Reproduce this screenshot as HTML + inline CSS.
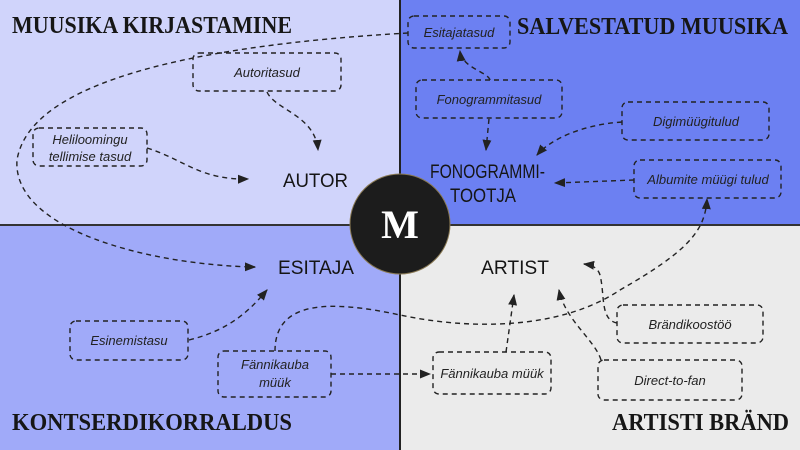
<!DOCTYPE html>
<html><head><meta charset="utf-8"><style>
html,body{margin:0;padding:0;background:#fff}
svg{display:block}
.t{font-family:"Liberation Serif",serif;font-weight:bold;font-size:24px;fill:#161616}
.l{font-family:"Liberation Sans",sans-serif;font-style:italic;font-size:13px;fill:#222}
.n{font-family:"Liberation Sans",sans-serif;font-size:19px;fill:#151515}
.b{fill:none;stroke:#222;stroke-width:1.4;stroke-dasharray:5,4}
.c{fill:none;stroke:#222;stroke-width:1.4;stroke-dasharray:5,4}
</style></head><body>
<svg width="800" height="450" viewBox="0 0 800 450" xmlns="http://www.w3.org/2000/svg">
<defs><marker id="a" viewBox="0 0 10 10" refX="9" refY="5" markerWidth="8" markerHeight="8" orient="auto"><path d="M0,1 L10,5 L0,9 z" fill="#222"/></marker></defs>
<rect x="0" y="0" width="400" height="225" fill="#d0d4fb"/>
<rect x="400" y="0" width="400" height="225" fill="#6c80f2"/>
<rect x="0" y="225" width="400" height="225" fill="#a0aaf9"/>
<rect x="400" y="225" width="400" height="225" fill="#ebebeb"/>
<line x1="400" y1="0" x2="400" y2="450" stroke="#222" stroke-width="2"/>
<line x1="0" y1="225" x2="800" y2="225" stroke="#333" stroke-width="2"/>

<text class="t" x="12" y="33" textLength="280" lengthAdjust="spacingAndGlyphs">MUUSIKA KIRJASTAMINE</text>
<text class="t" x="517" y="34" textLength="271" lengthAdjust="spacingAndGlyphs">SALVESTATUD MUUSIKA</text>
<text class="t" x="12" y="430" textLength="280" lengthAdjust="spacingAndGlyphs">KONTSERDIKORRALDUS</text>
<text class="t" x="612" y="430" textLength="177" lengthAdjust="spacingAndGlyphs">ARTISTI BRÄND</text>

<rect class="b" x="193" y="53" width="148" height="38" rx="6"/><text class="l" x="267" y="77" text-anchor="middle">Autoritasud</text>
<rect class="b" x="33" y="128" width="114" height="38" rx="6"/><text class="l" x="90" y="144" text-anchor="middle">Heliloomingu</text><text class="l" x="90" y="161" text-anchor="middle">tellimise tasud</text>
<rect class="b" x="408" y="16" width="102" height="32" rx="6"/><text class="l" x="459" y="37" text-anchor="middle">Esitajatasud</text>
<rect class="b" x="416" y="80" width="146" height="38" rx="6"/><text class="l" x="489" y="104" text-anchor="middle">Fonogrammitasud</text>
<rect class="b" x="622" y="102" width="147" height="38" rx="6"/><text class="l" x="696" y="126" text-anchor="middle">Digimüügitulud</text>
<rect class="b" x="634" y="160" width="147" height="38" rx="6"/><text class="l" x="708" y="184" text-anchor="middle">Albumite müügi tulud</text>
<rect class="b" x="70" y="321" width="118" height="39" rx="6"/><text class="l" x="129" y="345" text-anchor="middle">Esinemistasu</text>
<rect class="b" x="218" y="351" width="113" height="46" rx="6"/><text class="l" x="275" y="369" text-anchor="middle">Fännikauba</text><text class="l" x="275" y="387" text-anchor="middle">müük</text>
<rect class="b" x="433" y="352" width="118" height="42" rx="6"/><text class="l" x="492" y="378" text-anchor="middle">Fännikauba müük</text>
<rect class="b" x="617" y="305" width="146" height="38" rx="6"/><text class="l" x="690" y="329" text-anchor="middle">Brändikoostöö</text>
<rect class="b" x="598" y="360" width="144" height="40" rx="6"/><text class="l" x="670" y="385" text-anchor="middle">Direct-to-fan</text>

<text class="n" x="283" y="187" textLength="65" lengthAdjust="spacingAndGlyphs">AUTOR</text>
<text class="n" x="430" y="178" textLength="115" lengthAdjust="spacingAndGlyphs">FONOGRAMMI-</text>
<text class="n" x="450" y="202" textLength="66" lengthAdjust="spacingAndGlyphs">TOOTJA</text>
<text class="n" x="278" y="274" textLength="76" lengthAdjust="spacingAndGlyphs">ESITAJA</text>
<text class="n" x="481" y="274" textLength="68" lengthAdjust="spacingAndGlyphs">ARTIST</text>

<path class="c" d="M408,33 C200,45 30,80 17,160 C12,230 150,265 255,267" marker-end="url(#a)"/>
<path class="c" d="M267,92 C275,110 315,115 318,150" marker-end="url(#a)"/>
<path class="c" d="M147,148 C185,160 200,180 248,179" marker-end="url(#a)"/>
<path class="c" d="M490,80 C488,72 462,68 460,51" marker-end="url(#a)"/>
<path class="c" d="M489,119 L486,150" marker-end="url(#a)"/>
<path class="c" d="M622,122 C580,125 550,140 537,155" marker-end="url(#a)"/>
<path class="c" d="M634,180 L555,183" marker-end="url(#a)"/>
<path class="c" d="M189,340 C230,330 250,310 267,290" marker-end="url(#a)"/>
<path class="c" d="M275,351 C275,300 330,300 400,315 C470,330 560,330 620,290 C690,250 705,230 707,199" marker-end="url(#a)"/>
<path class="c" d="M331,374 L430,374" marker-end="url(#a)"/>
<path class="c" d="M506,352 L514,295" marker-end="url(#a)"/>
<path class="c" d="M601,360 C595,340 565,320 559,290" marker-end="url(#a)"/>
<path class="c" d="M617,323 C600,320 605,295 600,275 C598,268 592,265 584,264" marker-end="url(#a)"/>

<circle cx="400" cy="224" r="50" fill="#1c1c1c" stroke="#8a7a55" stroke-width="1"/>
<text x="400" y="238" text-anchor="middle" font-family="Liberation Serif,serif" font-weight="bold" font-size="40" fill="#fff">M</text>
</svg>
</body></html>
